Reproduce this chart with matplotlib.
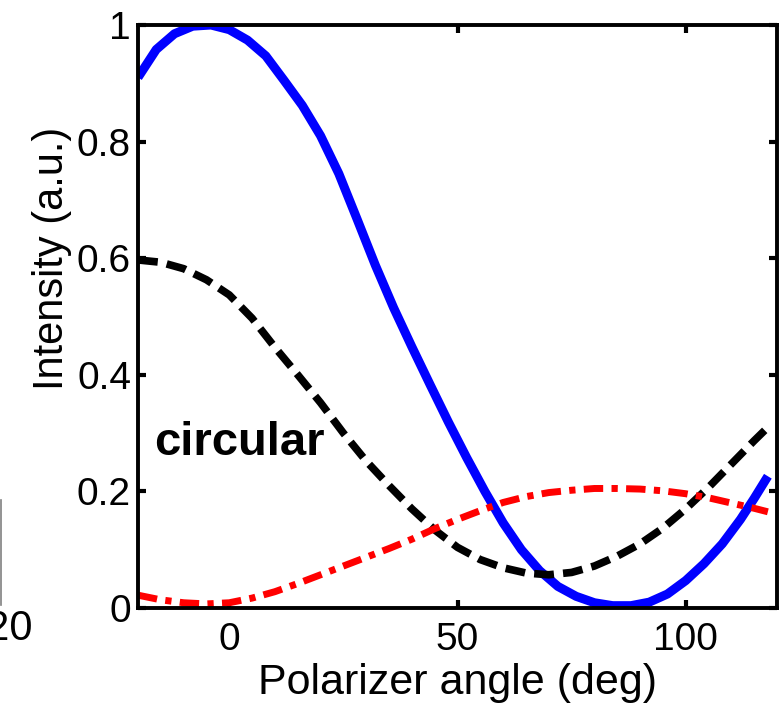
import matplotlib
matplotlib.use("Agg")
import matplotlib.pyplot as plt
from matplotlib.lines import Line2D

plt.rcParams['font.family'] = ['Liberation Sans', 'DejaVu Sans']

# values (polarizer angle in deg, intensity in a.u.)
blue_x = [-20, -16, -12, -8, -4, 0, 4, 8, 12, 16, 20, 24, 28, 32, 36, 40, 44, 48,
          52, 56, 60, 64, 68, 72, 76, 80, 84, 88, 92, 96, 100, 104, 108, 112, 115, 118]
blue_y = [0.91, 0.958, 0.985, 0.998, 1.0, 0.992, 0.974, 0.947, 0.905, 0.862, 0.81,
          0.745, 0.667, 0.588, 0.515, 0.448, 0.383, 0.319, 0.258, 0.200, 0.146, 0.100,
          0.064, 0.037, 0.020, 0.009, 0.004, 0.004, 0.010, 0.024, 0.047, 0.076, 0.110,
          0.152, 0.188, 0.226]

black_x = [-20, -15, -10, -5, 0, 5, 10, 15, 20, 25, 30, 35, 40, 45, 50, 55, 60, 65,
           70, 75, 80, 85, 90, 95, 100, 105, 110, 115, 118]
black_y = [0.597, 0.593, 0.582, 0.563, 0.537, 0.497, 0.447, 0.400, 0.352, 0.300,
           0.252, 0.210, 0.170, 0.134, 0.104, 0.083, 0.069, 0.060, 0.057, 0.061, 0.072,
           0.089, 0.110, 0.137, 0.170, 0.207, 0.247, 0.287, 0.31]

red_x = [-20, -15, -10, -5, 0, 5, 10, 15, 20, 25, 30, 35, 40, 45, 50, 55, 60, 65, 70,
         75, 80, 85, 90, 95, 100, 105, 110, 115, 118]
red_y = [0.022, 0.014, 0.009, 0.007, 0.009, 0.017, 0.028, 0.042, 0.057, 0.072, 0.087,
         0.102, 0.118, 0.136, 0.152, 0.167, 0.181, 0.191, 0.198, 0.202, 0.205, 0.205,
         0.204, 0.201, 0.196, 0.189, 0.180, 0.171, 0.165]

x_ticks = [0, 50, 100]
y_ticks = [0, 0.2, 0.4, 0.6, 0.8, 1]
y_ticklabels = ['0', '0.2', '0.4', '0.6', '0.8', '1']

fig = plt.figure(figsize=(7.8, 7.03), dpi=100)
ax = fig.add_axes([138/780, 1 - 608/703, (777-138)/780, (608-25)/703])

ax.plot(blue_x, blue_y, color='#0000ff', lw=6.5, solid_capstyle='butt', solid_joinstyle='round')
ax.plot(black_x, black_y, color='black', lw=5.5, dashes=(2.6, 1.2), dash_capstyle='butt')
ax.plot(red_x, red_y, color='#ff0000', lw=5, dashes=(2.8, 1.2, 0.9, 1.2), dash_capstyle='butt')

ax.text(-16.4, 0.262, 'circular', fontsize=34, fontweight='bold', va='baseline', ha='left')

ax.set_xlim(-20, 120)
ax.set_ylim(0, 1)
ax.set_xticks(x_ticks)
ax.set_yticks(y_ticks)
ax.set_yticklabels(y_ticklabels)
for s in ax.spines.values():
    s.set_linewidth(2.8)
ax.tick_params(direction='in', length=6, width=3, top=True, right=True, labelsize=28)
ax.tick_params(axis='x', pad=10)
ax.tick_params(axis='y', pad=5)

ax.set_xlabel('Polarizer angle (deg)', fontsize=31, labelpad=4)
ax.text(-0.135, 0.6, 'Intensity (a.u.)', transform=ax.transAxes, rotation=90,
        ha='center', va='center', fontsize=30)

# pieces of the neighbouring panel at the left edge
fig.text(33/780, 1 - 629/703, '120', ha='right', va='center', fontsize=30)
fig.add_artist(Line2D([0.6/780, 0.6/780], [1 - 605/703, 1 - 500/703], color='gray', lw=1.2))

fig.savefig('out.png', dpi=100)
